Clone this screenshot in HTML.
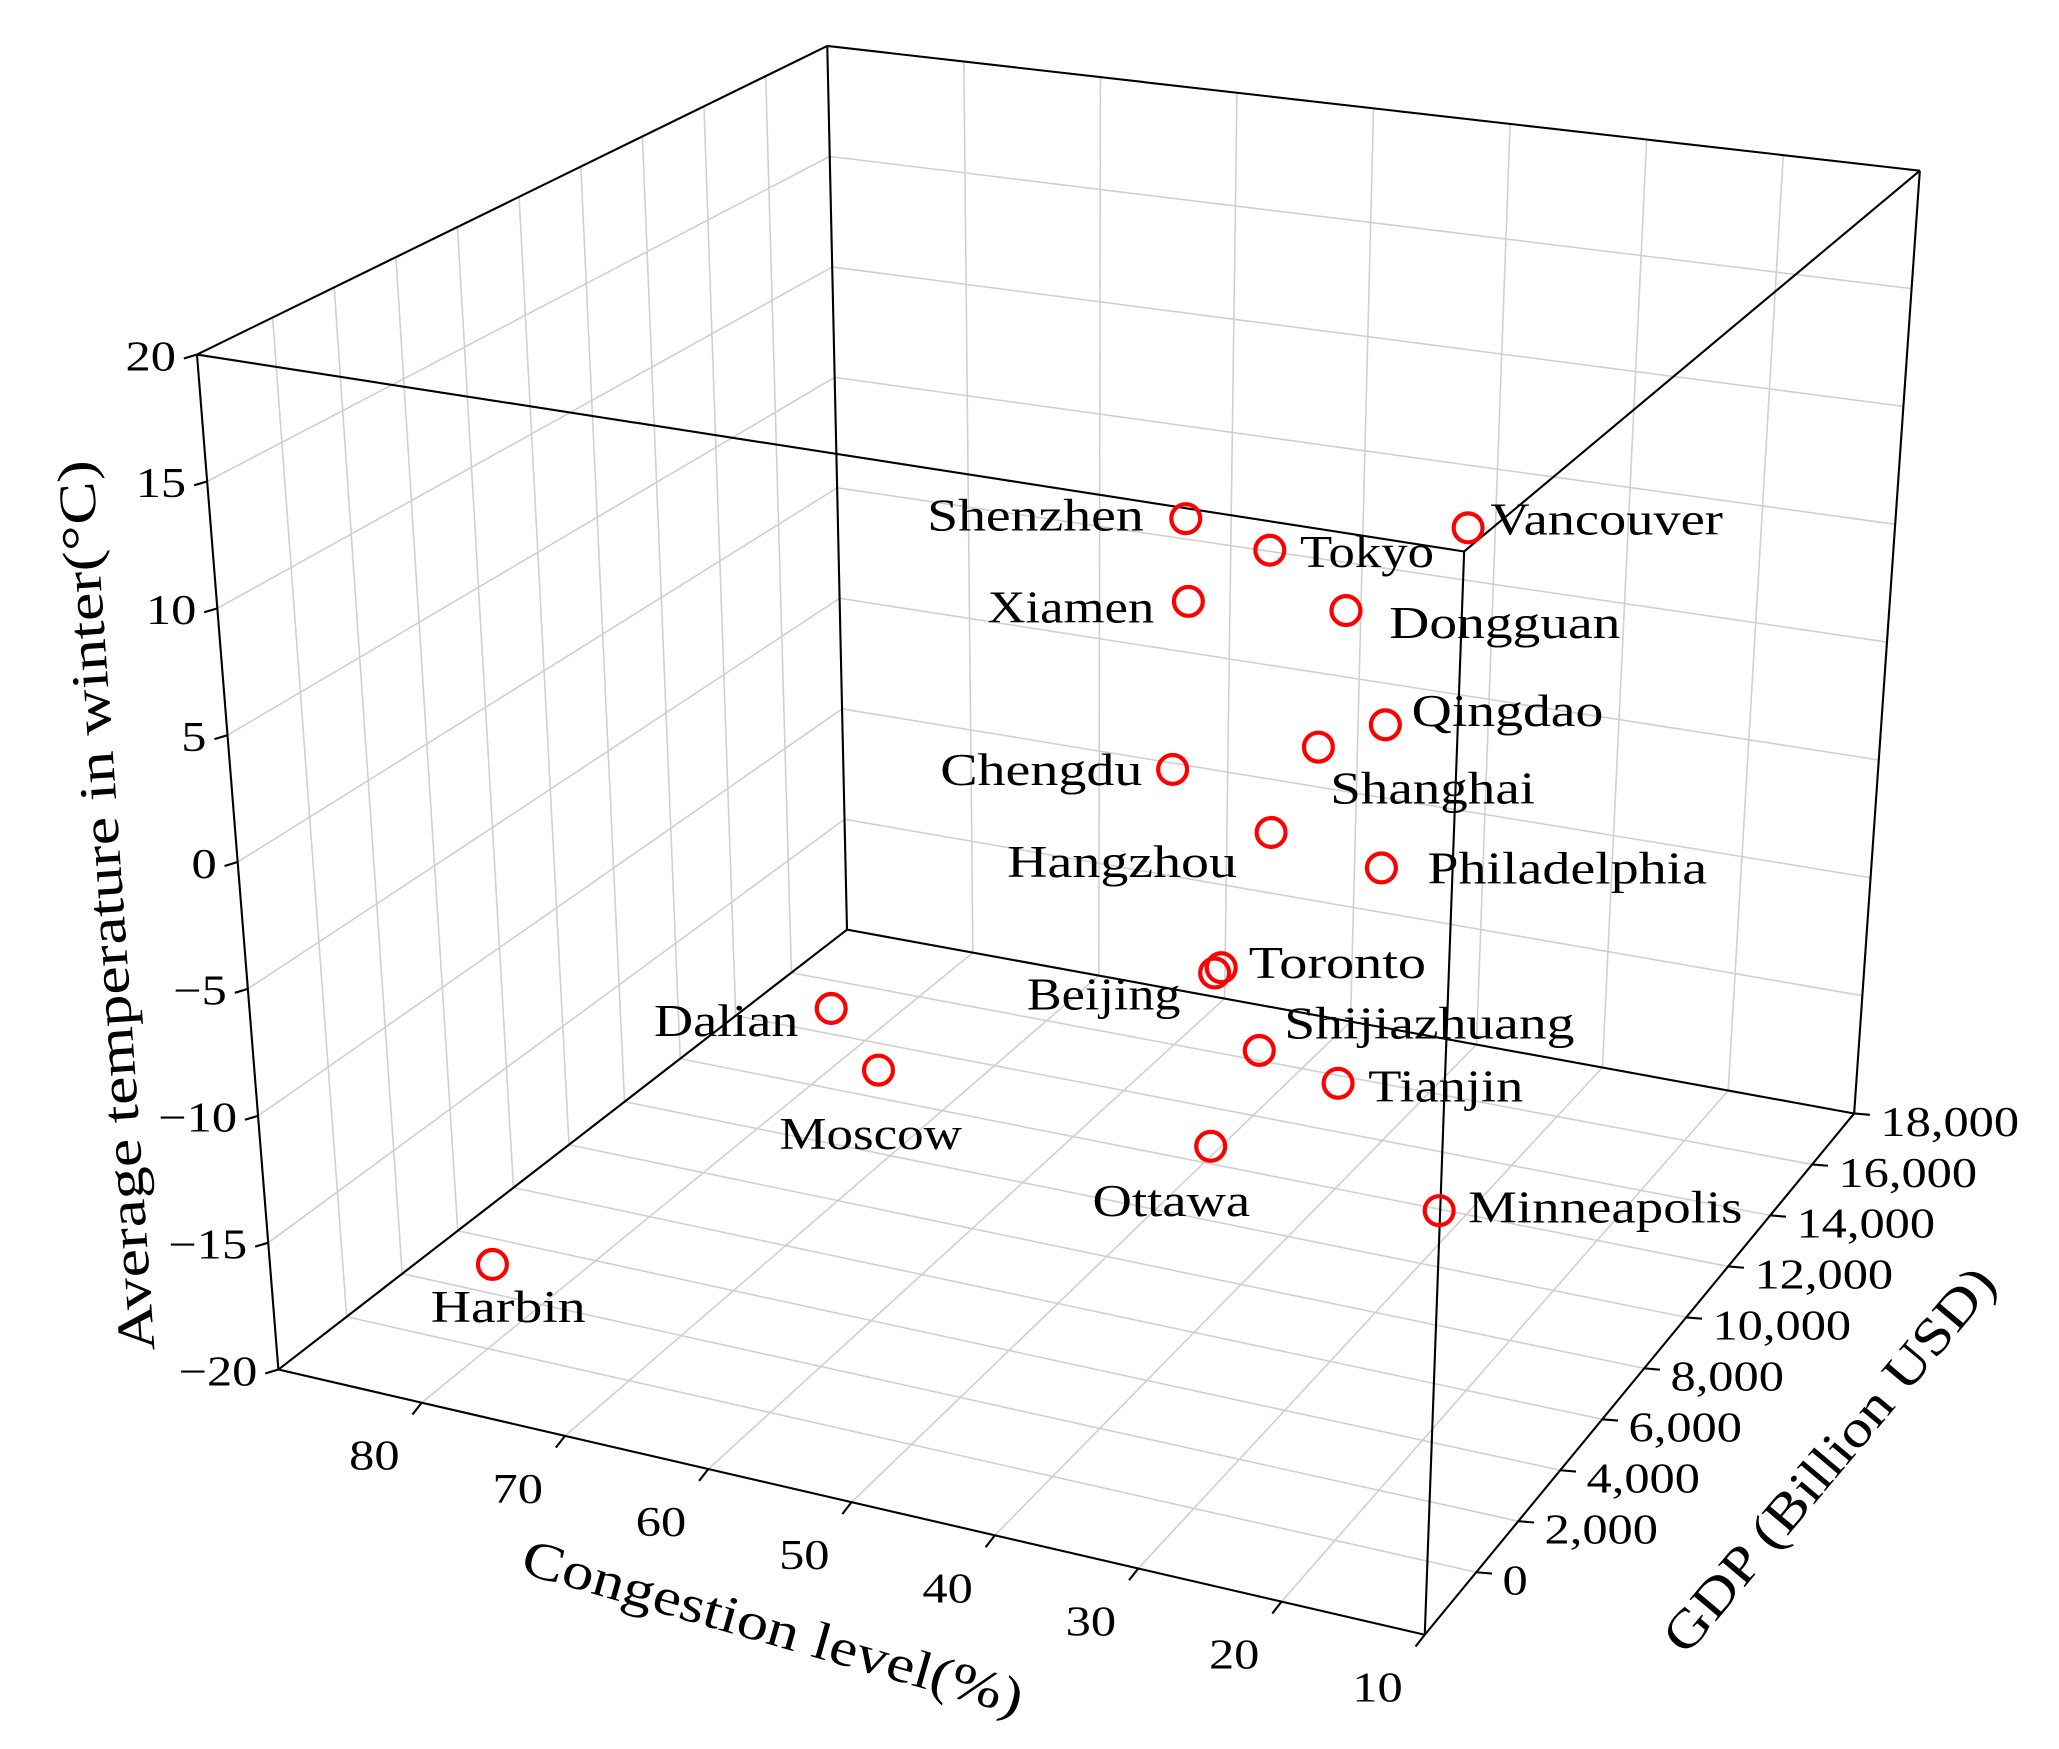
<!DOCTYPE html>
<html><head><meta charset="utf-8"><style>
html,body{margin:0;padding:0;background:#fff;}
svg{display:block;}
text{font-family:"Liberation Serif","DejaVu Serif",serif;fill:#000;}
</style></head><body>
<svg id="s" width="2059" height="1749" viewBox="0 0 1568 1332" preserveAspectRatio="none" xmlns="http://www.w3.org/2000/svg">
<rect width="1568" height="1332" fill="#fff"/>
<g id="grid" stroke="#cfcfcf" stroke-width="1.2" fill="none"></g>
<g id="box" stroke="#000" stroke-width="1.6" fill="none"></g>
<g id="ticks" stroke="#000" stroke-width="1.6"></g>
<g id="lbl" font-size="32"></g>
<g id="pts" fill="none" stroke="#f00" stroke-width="3.2"></g>
<g font-size="35">
<text x="871" y="404" text-anchor="end" textLength="165" lengthAdjust="spacingAndGlyphs">Shenzhen</text>
<text x="990" y="432" textLength="102" lengthAdjust="spacingAndGlyphs">Tokyo</text>
<text x="1135" y="407" textLength="177" lengthAdjust="spacingAndGlyphs">Vancouver</text>
<text x="879" y="474" text-anchor="end" textLength="127" lengthAdjust="spacingAndGlyphs">Xiamen</text>
<text x="1058" y="486" textLength="176" lengthAdjust="spacingAndGlyphs">Dongguan</text>
<text x="1075" y="553" textLength="146" lengthAdjust="spacingAndGlyphs">Qingdao</text>
<text x="1013" y="612" textLength="156" lengthAdjust="spacingAndGlyphs">Shanghai</text>
<text x="870" y="598" text-anchor="end" textLength="154" lengthAdjust="spacingAndGlyphs">Chengdu</text>
<text x="942" y="668" text-anchor="end" textLength="175" lengthAdjust="spacingAndGlyphs">Hangzhou</text>
<text x="1087" y="673" textLength="213" lengthAdjust="spacingAndGlyphs">Philadelphia</text>
<text x="951" y="745" textLength="135" lengthAdjust="spacingAndGlyphs">Toronto</text>
<text x="899" y="769" text-anchor="end" textLength="117" lengthAdjust="spacingAndGlyphs">Beijing</text>
<text x="978" y="791" textLength="221" lengthAdjust="spacingAndGlyphs">Shijiazhuang</text>
<text x="1042" y="839" textLength="118" lengthAdjust="spacingAndGlyphs">Tianjin</text>
<text x="892" y="926" text-anchor="middle" textLength="120" lengthAdjust="spacingAndGlyphs">Ottawa</text>
<text x="1118" y="931" textLength="209" lengthAdjust="spacingAndGlyphs">Minneapolis</text>
<text x="608" y="789" text-anchor="end" textLength="110" lengthAdjust="spacingAndGlyphs">Dalian</text>
<text x="663" y="875" text-anchor="middle" textLength="139" lengthAdjust="spacingAndGlyphs">Moscow</text>
<text x="387" y="1007" text-anchor="middle" textLength="118" lengthAdjust="spacingAndGlyphs">Harbin</text>
</g>
<g font-size="40">
<text transform="translate(80,690) rotate(-94)" dy="14" text-anchor="middle" textLength="680" lengthAdjust="spacingAndGlyphs">Average temperature in winter(°C)</text>
<text transform="translate(585,1252) rotate(16)" text-anchor="middle" textLength="395" lengthAdjust="spacingAndGlyphs">Congestion level(%)</text>
<text transform="translate(1403,1120) rotate(-50)" text-anchor="middle" textLength="370" lengthAdjust="spacingAndGlyphs">GDP (Billion USD)</text>
</g>
</svg>
<script>
var C={
'000':[212,1043],'100':[1085,1245],'010':[645,708],'110':[1412,848],
'001':[150,270],'101':[1115,420],'011':[630,35],'111':[1462,130]};
function P(u,v,w){var x=0,y=0;for(var a=0;a<2;a++)for(var b=0;b<2;b++)for(var c=0;c<2;c++){
var f=(a?u:1-u)*(b?v:1-v)*(c?w:1-w);var p=C[''+a+b+c];x+=f*p[0];y+=f*p[1];}return [x,y];}
function L(g,p,q){var l=document.createElementNS('http://www.w3.org/2000/svg','line');
l.setAttribute('x1',p[0].toFixed(1));l.setAttribute('y1',p[1].toFixed(1));l.setAttribute('x2',q[0].toFixed(1));l.setAttribute('y2',q[1].toFixed(1));document.getElementById(g).appendChild(l);}
function T(x,y,s,anchor){var t=document.createElementNS('http://www.w3.org/2000/svg','text');t.setAttribute('x',x);t.setAttribute('y',y);if(anchor)t.setAttribute('text-anchor',anchor);t.textContent=s;document.getElementById('lbl').appendChild(t);
try{var w=t.getComputedTextLength();t.setAttribute('textLength',(w*1.2).toFixed(1));t.setAttribute('lengthAdjust','spacingAndGlyphs');}catch(e){}}
function U(c){return (90-c)/80;}
function V(g){return 0.12+g/18000*0.88;}
function W(t){return (t+20)/40;}
var us=[],vs=[],ws=[];
for(var c=80;c>=10;c-=10)us.push(U(c));
for(var g=0;g<=18000;g+=2000)vs.push(V(g));
for(var t=-15;t<=20;t+=5)ws.push(W(t));
us.forEach(function(u){L('grid',P(u,1,0),P(u,1,1));});
ws.forEach(function(w){L('grid',P(0,1,w),P(1,1,w));});
vs.forEach(function(v){L('grid',P(0,v,0),P(0,v,1));});
ws.forEach(function(w){L('grid',P(0,0,w),P(0,1,w));});
us.forEach(function(u){L('grid',P(u,0,0),P(u,1,0));});
vs.forEach(function(v){L('grid',P(0,v,0),P(1,v,0));});
var E=[[[0,0,1],[1,0,1]],[[1,0,1],[1,1,1]],[[1,1,1],[0,1,1]],[[0,1,1],[0,0,1]],
[[0,0,0],[0,0,1]],[[1,0,0],[1,0,1]],[[0,1,0],[0,1,1]],[[1,1,0],[1,1,1]],
[[0,0,0],[1,0,0]],[[1,0,0],[1,1,0]],[[1,1,0],[0,1,0]],[[0,1,0],[0,0,0]]];
E.forEach(function(e){L('box',P.apply(null,e[0]),P.apply(null,e[1]));});
for(var t=-20;t<=20;t+=5){var p=P(0,0,W(t));L('ticks',p,[p[0]-10,p[1]+3]);T(p[0]-16,p[1]+12,(t<0?'\u2212'+(-t):''+t),'end');}
for(var c=80;c>=10;c-=10){var p=P(U(c),0,0);L('ticks',p,[p[0]-7,p[1]+9]);T(p[0]-36,p[1]+51,''+c,'middle');}
for(var g=0;g<=18000;g+=2000){var p=P(1,V(g),0);L('ticks',p,[p[0]+12,p[1]+1]);T(p[0]+20,p[1]+17,g.toLocaleString('en-US'),'start');}
var pts=[[903,395],[967,419],[1118,402],[905,458],[1025,465],[1055,552],[1004,569],[893,586],[968,634],[1052,661],[930,737],[925,741],[633,768],[669,815],[959,800],[1019,825],[922,873],[1096,922],[375,963]];
pts.forEach(function(q){var c=document.createElementNS('http://www.w3.org/2000/svg','circle');c.setAttribute('cx',q[0]);c.setAttribute('cy',q[1]);c.setAttribute('r',11);document.getElementById('pts').appendChild(c);});
</script>
</body></html>
